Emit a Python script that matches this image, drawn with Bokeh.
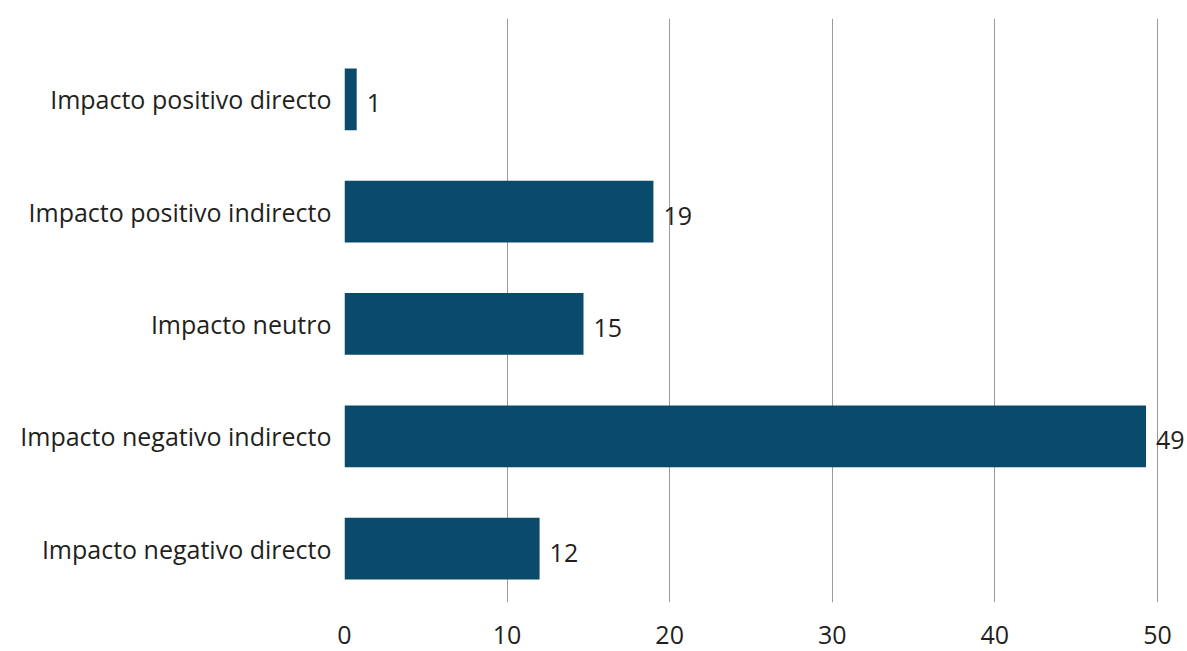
from bokeh.plotting import figure
from bokeh.models import Range1d, FixedTicker, ColumnDataSource
from bokeh.embed import file_html
from bokeh.resources import INLINE
from bokeh.core.properties import value

# Data (bottom to top)
categories = [
    "Impacto negativo directo",
    "Impacto negativo indirecto",
    "Impacto neutro",
    "Impacto positivo indirecto",
    "Impacto positivo directo",
]
values = [12.0, 49.3, 14.7, 19.0, 0.75]
value_labels = ["12", "49", "15", "19", "1"]
x_ticks = [0, 10, 20, 30, 40, 50]

FONT = "Open Sans"
TEXT_COLOR = "#231f20"
BAR_COLOR = "#0a4a6a"

pos = list(range(len(categories)))
src = ColumnDataSource(dict(y=pos, v=values, lab=value_labels))

p = figure(
    width=1187, height=651,
    x_range=Range1d(0, 51.85), y_range=Range1d(-0.48, 4.72),
    output_backend="svg", toolbar_location=None,
    min_border_left=344, min_border_right=0, min_border_top=18, min_border_bottom=49,
)
p.outline_line_color = None
p.background_fill_color = "white"
p.border_fill_color = "white"

p.hbar(y="y", left=0, right="v", height=0.55, source=src, color=BAR_COLOR, line_color=None)
p.text(x="v", y="y", text="lab", source=src, x_offset=10, y_offset=4,
       text_font=value(FONT), text_font_size="25px", text_color=TEXT_COLOR,
       text_baseline="middle", text_align="left")

# x axis
p.xaxis.ticker = FixedTicker(ticks=x_ticks)
p.xaxis.axis_line_color = None
p.xaxis.major_tick_line_color = None
p.xaxis.minor_tick_line_color = None
p.xaxis.major_label_text_font = FONT
p.xaxis.major_label_text_font_size = "25px"
p.xaxis.major_label_text_color = TEXT_COLOR
p.xaxis.major_label_standoff = 17

# y axis with category labels
p.yaxis.ticker = FixedTicker(ticks=pos)
p.yaxis.major_label_overrides = {i: c for i, c in enumerate(categories)}
p.yaxis.axis_line_color = None
p.yaxis.major_tick_line_color = None
p.yaxis.minor_tick_line_color = None
p.yaxis.major_label_text_font = FONT
p.yaxis.major_label_text_font_size = "25px"
p.yaxis.major_label_text_color = TEXT_COLOR
p.yaxis.major_label_standoff = 7

p.xgrid.grid_line_color = "#9a9a9a"
p.xgrid.grid_line_width = 1
p.ygrid.grid_line_color = None

open("out.html", "w").write(file_html(p, INLINE))
